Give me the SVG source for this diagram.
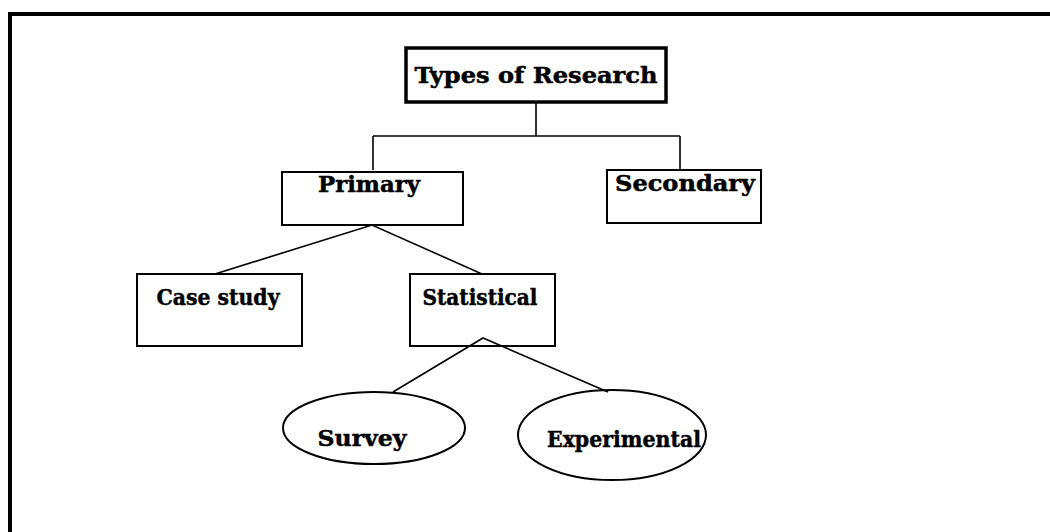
<svg xmlns="http://www.w3.org/2000/svg" width="1050" height="532" viewBox="0 0 1050 532">
<style>
.box{fill:#fff;stroke:#000;stroke-width:2}
.thick{fill:#fff;stroke:#000;stroke-width:3.5}
.lbl{font-family:"DejaVu Serif","Liberation Serif",serif;font-weight:bold;font-size:23px;fill:#000;stroke:#000;stroke-width:0.5;text-anchor:middle}
.con{fill:none;stroke:#000;stroke-width:1.6}
</style>
<rect width="1050" height="532" fill="#fff"/>
<g id="frame">
<line x1="8" y1="14" x2="1050" y2="14" stroke="#000" stroke-width="4"/>
<line x1="10" y1="12" x2="10" y2="532" stroke="#000" stroke-width="4"/>
</g>
<g id="types">
<rect class="thick" x="406" y="48" width="260" height="54"/>
<text class="lbl" x="536" y="83" font-size="24" textLength="243" lengthAdjust="spacingAndGlyphs">Types of Research</text>
</g>
<g id="primary">
<rect class="box" x="282" y="172" width="181" height="53"/>
<text class="lbl" x="369" y="192" textLength="102" lengthAdjust="spacingAndGlyphs">Primary</text>
</g>
<g id="secondary">
<rect class="box" x="607" y="170" width="154" height="53"/>
<text class="lbl" x="685" y="191" textLength="140" lengthAdjust="spacingAndGlyphs">Secondary</text>
</g>
<g id="casestudy">
<rect class="box" x="137" y="274" width="165" height="72"/>
<text class="lbl" x="218" y="305" textLength="123" lengthAdjust="spacingAndGlyphs">Case study</text>
</g>
<g id="statistical">
<rect class="box" x="410" y="274" width="145" height="72"/>
<text class="lbl" x="480" y="305" textLength="115" lengthAdjust="spacingAndGlyphs">Statistical</text>
</g>
<g id="survey">
<ellipse class="box" cx="374" cy="428" rx="91" ry="36"/>
<text class="lbl" x="362" y="446" textLength="89" lengthAdjust="spacingAndGlyphs">Survey</text>
</g>
<g id="experimental">
<ellipse class="box" cx="612" cy="435" rx="94" ry="45"/>
<text class="lbl" x="624" y="447" textLength="154" lengthAdjust="spacingAndGlyphs">Experimental</text>
</g>
<g id="connectors">
<path class="con" d="M536 102 V136 M373 136 H680 M373 136 V170 M680 136 V170"/>
<path class="con" d="M215 274 L372 225 L482 274"/>
<path class="con" d="M393 392 L483 338 L608 392"/>
</g>
</svg>
